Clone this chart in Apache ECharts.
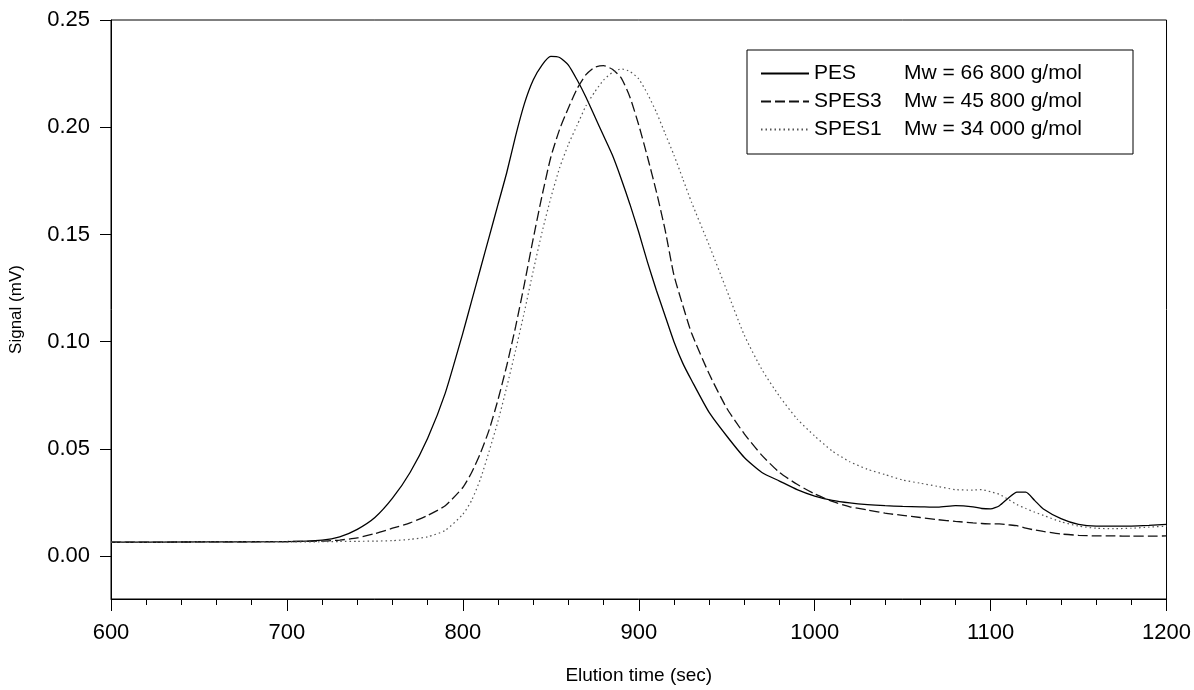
<!DOCTYPE html>
<html>
<head>
<meta charset="utf-8">
<script src="https://cdn.jsdelivr.net/npm/echarts@6/dist/echarts.min.js"></script>
<style>
  html, body { margin: 0; padding: 0; background: #fff; }
  #chart { width: 1194px; height: 690px; }
</style>
</head>
<body>
<div id="chart"></div>
<script>
// elution times (sec)
const times = [600, 650, 700, 720, 730, 740, 750, 760, 770, 780, 790,
  800, 805, 810, 815, 820, 825, 830, 835, 840, 845, 850, 855, 860, 865, 870, 875, 880, 885, 890, 895, 900, 905, 910, 915, 920, 925, 930,
  940, 950, 960, 970, 980, 990, 1000, 1010, 1020, 1030, 1040, 1050, 1060, 1070, 1080, 1090,
  1095, 1100, 1105, 1110, 1115, 1120, 1125, 1130,
  1140, 1150, 1160, 1170, 1180, 1190, 1200];

// signal (mV)
const pes = [0.0065, 0.0066, 0.0068, 0.0075, 0.009, 0.0125, 0.018, 0.027, 0.039, 0.055, 0.076,
  0.104, 0.119, 0.134, 0.149, 0.164, 0.179, 0.196, 0.211, 0.222, 0.229, 0.233, 0.2325, 0.229, 0.222, 0.214, 0.205, 0.196, 0.187, 0.176, 0.164, 0.151, 0.137, 0.124, 0.112, 0.100, 0.090, 0.082,
  0.067, 0.056, 0.046, 0.039, 0.035, 0.031, 0.028, 0.026, 0.0248, 0.024, 0.0235, 0.0232, 0.023, 0.0228, 0.0235, 0.023,
  0.0222, 0.022, 0.0235, 0.027, 0.0298, 0.0298, 0.026, 0.022,
  0.0175, 0.0148, 0.014, 0.014, 0.014, 0.0143, 0.0148];

const spes3 = [0.0065, 0.0066, 0.0068, 0.007, 0.0075, 0.0085, 0.0105, 0.013, 0.0155, 0.019, 0.0235,
  0.032, 0.039, 0.048, 0.059, 0.073, 0.089, 0.107, 0.127, 0.148, 0.168, 0.186, 0.199, 0.209, 0.218, 0.2245, 0.228, 0.2287, 0.227, 0.223, 0.214, 0.201, 0.186, 0.170, 0.152, 0.131, 0.117, 0.104,
  0.085, 0.069, 0.057, 0.047, 0.039, 0.0335, 0.029, 0.0255, 0.023, 0.0215, 0.020, 0.019, 0.018, 0.017, 0.0162, 0.0155,
  0.0152, 0.015, 0.015, 0.0146, 0.0142, 0.013, 0.0122, 0.0115,
  0.0103, 0.0097, 0.0094, 0.0094, 0.0093, 0.0093, 0.0094];

const spes1 = [0.0065, 0.0066, 0.0066, 0.0067, 0.0068, 0.0069, 0.007, 0.0072, 0.0078, 0.009, 0.012,
  0.0195, 0.026, 0.036, 0.049, 0.063, 0.079, 0.096, 0.114, 0.133, 0.151, 0.167, 0.181, 0.192, 0.201, 0.210, 0.2165, 0.222, 0.2255, 0.2272, 0.226, 0.2225, 0.2155, 0.207, 0.197, 0.187, 0.176, 0.165,
  0.145, 0.124, 0.103, 0.087, 0.0745, 0.064, 0.056, 0.049, 0.044, 0.0405, 0.038, 0.0355, 0.034, 0.0325, 0.031, 0.0308,
  0.031, 0.030, 0.0288, 0.0265, 0.024, 0.0222, 0.0205, 0.019,
  0.016, 0.014, 0.013, 0.0128, 0.013, 0.0135, 0.014];

const yTicks = [0, 0.05, 0.10, 0.15, 0.20, 0.25];
const names = ['PES', 'SPES3', 'SPES1'];
const mw = { PES: 'Mw = 66 800 g/mol', SPES3: 'Mw = 45 800 g/mol', SPES1: 'Mw = 34 000 g/mol' };

function pairs(vals) {
  return times.map((t, i) => [t, vals[i]]);
}

const chart = echarts.init(document.getElementById('chart'));
const font = 'Liberation Sans, Arial, sans-serif';

const option = {
  animation: false,
  backgroundColor: '#fff',
  textStyle: { fontFamily: font, color: '#000' },
  grid: {
    left: 110, right: 26, top: 20, bottom: 86,
    show: true, borderColor: '#000', borderWidth: 1
  },
  legend: {
    orient: 'vertical',
    left: 747, top: 50,
    padding: [13, 51, 14, 13],
    backgroundColor: '#fff',
    borderColor: '#000', borderWidth: 1,
    itemWidth: 48, itemHeight: 14, itemGap: 7, itemTextGap: 15,
    itemStyle: { opacity: 0 },
    data: names,
    formatter: n => '{a|' + n + '}{b|' + mw[n] + '}',
    textStyle: {
      fontFamily: font, color: '#000', fontSize: 21,
      rich: {
        a: { width: 90, fontSize: 21, lineHeight: 21, fontFamily: font },
        b: { fontSize: 21, lineHeight: 21, fontFamily: font }
      }
    }
  },
  xAxis: {
    type: 'value',
    min: 600, max: 1200, interval: 100,
    name: 'Elution time (sec)',
    nameLocation: 'middle', nameGap: 67,
    nameTextStyle: { fontSize: 19, fontFamily: font, color: '#000' },
    axisLine: { onZero: false, lineStyle: { color: '#000', width: 1 } },
    axisTick: { length: 12, lineStyle: { color: '#000' } },
    minorTick: { show: true, splitNumber: 5, length: 6, lineStyle: { color: '#000' } },
    axisLabel: { fontSize: 22, color: '#000', margin: 23, fontFamily: font, formatter: v => String(v) },
    splitLine: { show: false }
  },
  yAxis: {
    type: 'value',
    min: -0.02, max: 0.25,
    name: 'Signal (mV)',
    nameLocation: 'middle', nameGap: 86,
    nameTextStyle: { fontSize: 17, fontFamily: font, color: '#000' },
    axisLine: { show: true, onZero: false, lineStyle: { color: '#000', width: 1 } },
    axisTick: { length: 11, customValues: yTicks, lineStyle: { color: '#000' } },
    axisLabel: {
      fontSize: 22, color: '#000', margin: 21, fontFamily: font,
      customValues: yTicks,
      formatter: v => v.toFixed(2)
    },
    splitLine: { show: false }
  },
  series: [
    {
      name: 'PES', type: 'line', data: pairs(pes),
      showSymbol: false, symbol: 'none', smooth: 0.2,
      lineStyle: { color: '#000', width: 1.3, type: 'solid' },
      itemStyle: { color: '#000' }
    },
    {
      name: 'SPES3', type: 'line', data: pairs(spes3),
      showSymbol: false, symbol: 'none', smooth: 0.2,
      lineStyle: { color: '#111', width: 1.3, type: [10, 4] },
      itemStyle: { color: '#111' }
    },
    {
      name: 'SPES1', type: 'line', data: pairs(spes1),
      showSymbol: false, symbol: 'none', smooth: 0.2,
      lineStyle: { color: '#555', width: 1.2, type: [1.5, 3] },
      itemStyle: { color: '#555' }
    }
  ]
};

chart.setOption(option);
</script>
</body>
</html>
